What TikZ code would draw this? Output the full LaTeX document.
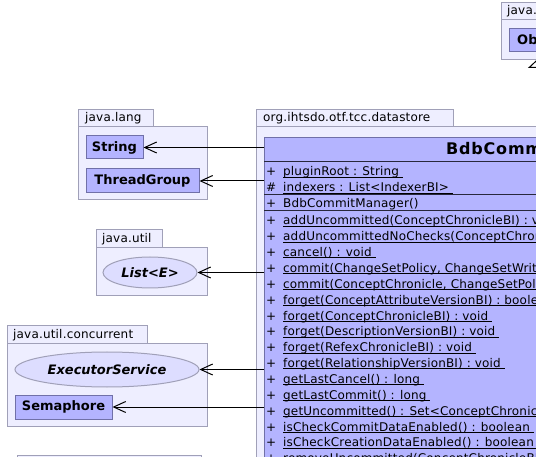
\documentclass[tikz,border=0pt]{standalone}
\usepackage{fontspec}
\setmainfont{DejaVu Sans}
\newfontfamily\memberfont[LetterSpace=1.4]{DejaVu Sans}
\newfontfamily\titlefont[LetterSpace=5]{DejaVu Sans}
\newfontfamily\pkgfont[LetterSpace=1.5]{DejaVu Sans}
\usepackage{tikz,xcolor}
\usetikzlibrary{arrows.meta,shapes.geometric}
\definecolor{pkgfill}{RGB}{238,238,255}
\definecolor{pkgline}{RGB}{160,160,184}
\definecolor{clsfill}{RGB}{180,180,255}
\definecolor{clsline}{RGB}{112,112,168}
\definecolor{ifcfill}{RGB}{221,221,255}
\definecolor{sepline}{RGB}{40,40,60}
% underline that sits just under the baseline, like the member rows
\newcommand{\memberline}[1]{\setbox0\hbox{#1}\rlap{\rule[-1.7pt]{\wd0}{0.9pt}}\box0}
\tikzset{
  % package body and its tab
  pkg/.style={draw=pkgline,fill=pkgfill,line width=1pt},
  pkglabel/.style={anchor=west,inner sep=0pt,font=\pkgfont\fontsize{12}{14}\selectfont},
  % classes and interfaces
  cls/.style={draw=clsline,fill=clsfill,line width=1pt,inner sep=0pt,
    font=\fontsize{13}{15}\selectfont\bfseries},
  ifc/.style={ellipse,draw=pkgline,fill=ifcfill,line width=1pt,inner sep=0pt,
    font=\fontsize{13}{15}\selectfont\bfseries\itshape},
  member/.style={anchor=base west,inner sep=0pt,font=\memberfont\fontsize{12}{14}\selectfont},
  % dependency and generalisation
  uses/.style={draw,line width=1pt,-{Straight Barb[length=12pt,width=11pt]}},
  extends/.style={draw,line width=1pt,-{Triangle[open,fill=white,length=8pt,width=17pt]}},
}

\begin{document}
\begin{tikzpicture}[x=1pt,y=-1pt]
\useasboundingbox (0,0) rectangle (536,457);
\clip (0,0) rectangle (536,457);

% packages
\filldraw[pkg] (501,3) rectangle (580,20);
\filldraw[pkg] (501,20) rectangle (600,60);
\node[pkglabel] (pkgbase) at (507,11.5) {java.lang};
\filldraw[pkg] (78,110) rectangle (153,127);
\filldraw[pkg] (78,127) rectangle (207,200);
\node[pkglabel] (pkglang) at (85,118.5) {java.lang};
\filldraw[pkg] (256,110) rectangle (453,127);
\filldraw[pkg] (256,127) rectangle (620,520);
\node[pkglabel] (pkgstore) at (263,118.5) {org.ihtsdo.otf.tcc.datastore};
\filldraw[pkg] (96,230) rectangle (162,248);
\filldraw[pkg] (96,248) rectangle (207,296);
\node[pkglabel] (pkgutil) at (102,239) {java.util};
\filldraw[pkg] (7,326) rectangle (147,344);
\filldraw[pkg] (7,344) rectangle (207,426);
\node[pkglabel] (pkgconc) at (13,335) {java.util.concurrent};
\filldraw[pkg] (17,455) rectangle (201,472);

% classes and interfaces
\node[cls,minimum width=64pt,minimum height=23pt] (Object) at (541,40.5) {Object};
\node[cls,minimum width=57pt,minimum height=23pt] (String) at (114.5,147.5) {String};
\node[cls,minimum width=113pt,minimum height=24pt] (ThreadGroup) at (142.5,181) {ThreadGroup};
\node[ifc,minimum width=94pt,minimum height=31pt] (List) at (150,272.5) {List<E>};
\node[ifc,minimum width=184pt,minimum height=35pt] (Executor) at (107,369.5) {ExecutorService};
\node[cls,minimum width=97pt,minimum height=24pt] (Semaphore) at (63.5,407) {Semaphore};

% the manager class
\node[cls,anchor=north west,minimum width=546pt,minimum height=383pt] (mgr) at (264,137) {};
\node[anchor=base west,inner sep=0pt,font=\titlefont\fontsize{16}{18}\selectfont\bfseries] (mgrname) at (446,155) {BdbCommitManager};
\draw[sepline,line width=1pt] (264,162) -- (810,162);
\draw[sepline,line width=1pt] (264,195) -- (810,195);
\draw[sepline,line width=1pt] (264,211) -- (810,211);
\node[member] (vis1) at (266,176) {+};
\node[member] (att1) at (283,176) {\memberline{pluginRoot : String~}};
\node[member] (vis2) at (266,192) {\#};
\node[member] (att2) at (283,192) {\memberline{indexers : List<IndexerBI>~}};
\node[member] (vis3) at (266,208) {+};
\node[member] (ctor) at (283,208) {BdbCommitManager()};
\foreach \txt [count=\i from 0] in {
  {addUncommitted(ConceptChronicleBI) : void},
  {addUncommittedNoChecks(ConceptChronicleBI) : void},
  {cancel() : void},
  {commit(ChangeSetPolicy, ChangeSetWriterThreading) : boolean},
  {commit(ConceptChronicle, ChangeSetPolicy, ChangeSetWriterThreading) : boolean},
  {forget(ConceptAttributeVersionBI) : boolean},
  {forget(ConceptChronicleBI) : void},
  {forget(DescriptionVersionBI) : void},
  {forget(RefexChronicleBI) : void},
  {forget(RelationshipVersionBI) : void},
  {getLastCancel() : long},
  {getLastCommit() : long},
  {getUncommitted() : Set<ConceptChronicleBI>},
  {isCheckCommitDataEnabled() : boolean},
  {isCheckCreationDataEnabled() : boolean},
  {removeUncommitted(ConceptChronicleBI) : void}}
{
  \node[member] (mvis\i) at (266,225+15.85*\i) {+};
  \node[member] (meth\i) at (283,225+15.85*\i) {\memberline{\txt~}};
}

% connectors
\draw[uses] (mgr.west |- String) -- (String);
\draw[uses] (mgr.west |- ThreadGroup) -- (ThreadGroup);
\draw[uses] (mgr.west |- List) -- (List);
\draw[uses] (mgr.west |- Executor) -- (Executor);
\draw[uses] (mgr.west |- Semaphore) -- (Semaphore);
\coordinate (objfoot) at (536.5,60);
\draw[extends] (mgr.north -| objfoot) -- (objfoot);
\end{tikzpicture}
\end{document}
